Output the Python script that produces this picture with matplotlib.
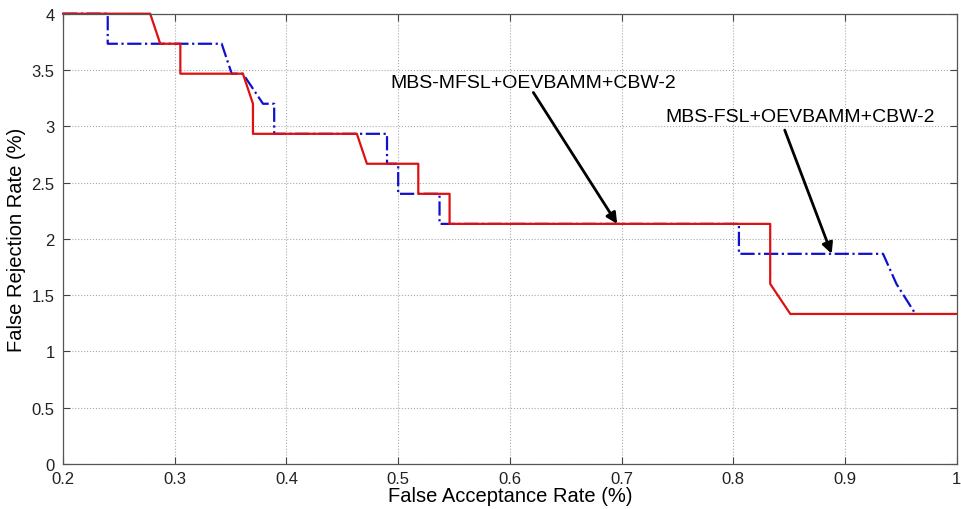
import matplotlib.pyplot as plt

plt.rcParams['font.family'] = ['Liberation Sans', 'DejaVu Sans']

# FAR / FRR operating curves (%)
far_mfsl = [0.2, 0.278, 0.287, 0.305, 0.305, 0.361, 0.370, 0.370, 0.463, 0.472,
            0.518, 0.518, 0.546, 0.546, 0.833, 0.833, 0.851, 1.0]
frr_mfsl = [4.0, 4.0, 3.733, 3.733, 3.467, 3.467, 3.2, 2.933, 2.933, 2.667,
            2.667, 2.4, 2.4, 2.133, 2.133, 1.6, 1.333, 1.333]

far_fsl = [0.2, 0.240, 0.240, 0.342, 0.351, 0.361, 0.379, 0.389, 0.389, 0.490,
           0.490, 0.500, 0.500, 0.537, 0.537, 0.805, 0.805, 0.934, 0.946, 0.963]
frr_fsl = [4.0, 4.0, 3.733, 3.733, 3.467, 3.467, 3.2, 3.2, 2.933, 2.933,
           2.667, 2.667, 2.4, 2.4, 2.133, 2.133, 1.867, 1.867, 1.6, 1.333]

label_mfsl = 'MBS-MFSL+OEVBAMM+CBW-2'
label_fsl = 'MBS-FSL+OEVBAMM+CBW-2'

xticks = [0.2, 0.3, 0.4, 0.5, 0.6, 0.7, 0.8, 0.9, 1.0]
yticks = [0, 0.5, 1, 1.5, 2, 2.5, 3, 3.5, 4]

fig = plt.figure(figsize=(9.61, 5.10), dpi=100)
ax = fig.add_axes([0.0656, 0.0882, 0.930, 0.883])

ax.plot(far_fsl, frr_fsl, color='#1010cc', linestyle='-.', linewidth=1.6, clip_on=False)
ax.plot(far_mfsl, frr_mfsl, color='#dd1111', linestyle='-', linewidth=1.6, clip_on=False)

ax.set_xlim(0.2, 1.0)
ax.set_ylim(0, 4)
ax.set_xticks(xticks)
ax.set_xticklabels(['0.2', '0.3', '0.4', '0.5', '0.6', '0.7', '0.8', '0.9', '1'])
ax.set_yticks(yticks)
ax.set_yticklabels(['0', '0.5', '1', '1.5', '2', '2.5', '3', '3.5', '4'])

ax.grid(True, color='#aaaaaa', linestyle=':', linewidth=0.8)
ax.tick_params(direction='in', length=5, width=0.8, colors='#444444',
               labelcolor='#222222', labelsize=12, top=True, right=True)
ax.tick_params(axis='x', pad=5)
ax.tick_params(axis='y', pad=6)
for sp in ax.spines.values():
    sp.set_color('#555555')
    sp.set_linewidth(0.9)

ax.set_xlabel('False Acceptance Rate (%)', fontsize=14.5, labelpad=0)
ax.set_ylabel('False Rejection Rate (%)', fontsize=14.5, labelpad=4)

arrow = dict(arrowstyle='-|>', color='black', lw=2, mutation_scale=16,
             shrinkA=0, shrinkB=0)
ax.annotate('', xy=(0.696, 2.133), xytext=(0.621, 3.30), arrowprops=arrow)
ax.annotate('', xy=(0.888, 1.867), xytext=(0.846, 2.966), arrowprops=arrow)
ax.text(0.493, 3.39, label_mfsl, fontsize=14, va='center', ha='left')
ax.text(0.739, 3.09, label_fsl, fontsize=14, va='center', ha='left')

fig.savefig('out.png', dpi=100)
